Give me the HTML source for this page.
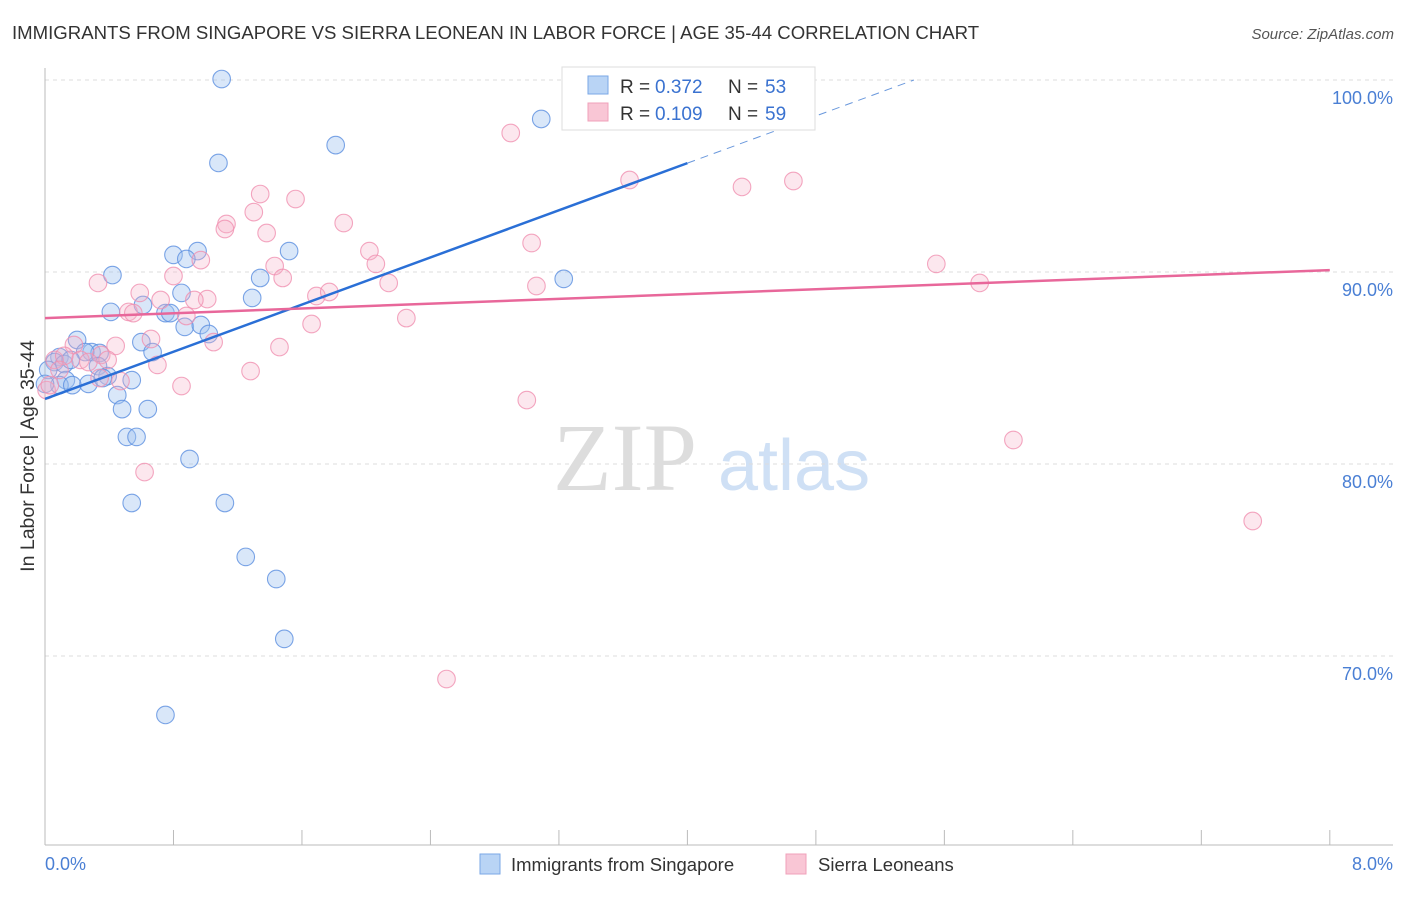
<!DOCTYPE html>
<html><head><meta charset="utf-8"><style>
body{margin:0;background:#fff;font-family:"Liberation Sans",sans-serif}
svg text{font-family:"Liberation Sans",sans-serif}
</style></head><body>
<svg id="chart" width="1406" height="892" xmlns="http://www.w3.org/2000/svg">
<text x="12" y="39" font-size="18.6" fill="#333">IMMIGRANTS FROM SINGAPORE VS SIERRA LEONEAN IN LABOR FORCE | AGE 35-44 CORRELATION CHART</text>
<text x="1394" y="39" font-size="15" fill="#555" text-anchor="end" font-style="italic">Source: ZipAtlas.com</text>
<text x="553" y="490" font-size="96" fill="#ddd" font-family="Liberation Serif" style="font-family:'Liberation Serif',serif">ZIP</text>
<text x="718" y="490" font-size="72" fill="#cfe0f5">atlas</text>
<g id="grid"></g>
<g id="axes"></g>
<g id="pts"></g>
<g id="trends"></g>
<text transform="translate(34,456) rotate(-90)" font-size="19.5" fill="#333" text-anchor="middle">In Labor Force | Age 35-44</text>
<text x="45" y="870" font-size="18" fill="#4a7fd4">0.0%</text>
<text x="1393" y="870" font-size="18" fill="#4a7fd4" text-anchor="end">8.0%</text>
<g>
<rect x="562" y="67" width="253" height="63" fill="#fff" stroke="#ddd"/>
<rect x="588" y="76" width="20" height="18" fill="#b9d4f5" stroke="#7aa7e6"/>
<rect x="588" y="103" width="20" height="18" fill="#f9c6d5" stroke="#f0a0ba"/>
<text x="620" y="93" font-size="19" fill="#333">R =</text>
<text x="655" y="93" font-size="19" fill="#3a72d0">0.372</text>
<text x="728" y="93" font-size="19" fill="#333">N =</text>
<text x="765" y="93" font-size="19" fill="#3a72d0">53</text>
<text x="620" y="120" font-size="19" fill="#333">R =</text>
<text x="655" y="120" font-size="19" fill="#3a72d0">0.109</text>
<text x="728" y="120" font-size="19" fill="#333">N =</text>
<text x="765" y="120" font-size="19" fill="#3a72d0">59</text>
</g>
<g>
<rect x="480" y="854" width="20" height="20" fill="#b9d4f5" stroke="#7aa7e6"/>
<text x="511" y="871" font-size="18.5" fill="#333">Immigrants from Singapore</text>
<rect x="786" y="854" width="20" height="20" fill="#f9c6d5" stroke="#f0a0ba"/>
<text x="818" y="871" font-size="18.5" fill="#333">Sierra Leoneans</text>
</g>
</svg>
<script>
const yTicks=[100,90,80,70];
const yTickLabels=["100.0%","90.0%","80.0%","70.0%"];
const blueX=[1.10,3.09,1.81,1.08,0.80,0.95,0.88,1.52,0.42,1.34,3.23,0.85,1.29,0.61,0.41,0.75,0.78,0.87,0.97,1.02,0.20,0.60,0.67,0.29,0.34,0.09,0.06,0.12,0.33,0.39,0.13,0.27,0.54,0.36,0.45,0.48,0.64,0.51,0.57,0.90,0.54,1.12,1.25,1.44,1.49,0.75,3.64,0.02,0.09,0.17,0.25,0.00,0.16];
const blueY=[100.05,97.97,96.61,95.68,90.89,91.09,90.68,91.09,89.84,89.69,89.64,88.91,88.65,88.28,87.92,87.86,87.86,87.14,87.24,86.77,86.46,86.35,85.83,85.83,85.78,85.57,85.31,85.21,85.10,84.58,84.37,84.17,84.37,84.48,83.59,82.86,82.86,81.41,81.41,80.26,77.97,77.97,75.16,74.01,70.89,66.93,100.05,84.90,84.11,84.11,85.83,84.17,85.42];
const pinkX=[2.90,4.31,3.64,4.34,4.66,1.34,1.56,1.30,1.13,1.12,1.86,1.38,3.03,2.02,2.06,0.97,1.43,0.80,1.48,0.33,2.14,3.06,5.55,5.82,0.59,1.69,1.77,1.01,0.93,0.72,0.52,0.55,0.88,2.25,1.66,0.66,1.05,0.18,0.44,1.46,0.35,0.22,0.39,0.70,1.28,0.47,0.85,0.06,0.01,0.03,3.00,6.03,0.62,7.52,2.50,0.12,0.27,0.34,0.09];
const pinkY=[97.24,100,94.79,94.43,94.74,94.06,93.80,93.12,92.50,92.24,92.55,92.03,91.51,91.09,90.42,90.62,90.31,89.79,89.69,89.43,89.43,89.27,90.42,89.43,88.91,88.75,88.96,88.59,88.54,88.54,87.92,87.86,87.71,87.60,87.29,86.51,86.35,86.20,86.15,86.09,85.68,85.42,85.42,85.16,84.84,84.32,84.06,85.42,83.85,84.11,83.33,81.25,79.58,77.03,68.80,85.63,85.31,84.48,84.90];
const blueTrend=[83.39,3.07];
const pinkTrend=[87.60,0.3125];
const xs=v=>45+v*160.6;
const ys=v=>80+(100-v)*19.2;
const NS="http://www.w3.org/2000/svg";
function mk(p,tag,a){const e=document.createElementNS(NS,tag);for(const k in a)e.setAttribute(k,a[k]);p.appendChild(e);return e;}
const grid=document.getElementById('grid');
yTicks.forEach((t,i)=>{
 const l=mk(grid,'line',{x1:45,x2:1393,y1:ys(t),y2:ys(t),stroke:'#ddd','stroke-dasharray':'4,4'});
 
 
 const tx=mk(grid,'text',{x:1393,y:ys(t)+24,'font-size':18,fill:'#4a7fd4','text-anchor':'end'});
 tx.textContent=yTickLabels[i];
 
 
});
const ax=document.getElementById('axes');
mk(ax,'line',{x1:45,x2:45,y1:68,y2:845,stroke:'#bbb'});
mk(ax,'line',{x1:45,x2:1393,y1:845,y2:845,stroke:'#bbb'});
for(let i=1;i<=10;i++){const t=mk(ax,'line',{x1:xs(i*0.8),x2:xs(i*0.8),y1:830,y2:845,stroke:'#bbb'});}
const pts=document.getElementById('pts');
function plot(X,Y,fill,stroke,name){X.forEach((x,i)=>{const c=mk(pts,'circle',{cx:xs(x),cy:ys(Y[i]),r:8.8,fill:fill,stroke:stroke,'stroke-width':1.1,'stroke-opacity':0.8});
 
 });}
plot(blueX,blueY,'rgba(160,196,240,0.4)','#5b8fe0','singapore-point');
plot(pinkX,pinkY,'rgba(245,175,198,0.3)','#f090b0','sierra-leonean-point');
const tr=document.getElementById('trends');
const bEnd=(100-blueTrend[0])/blueTrend[1];
let l1=mk(tr,'line',{x1:xs(0),y1:ys(blueTrend[0]),x2:xs(4),y2:ys(blueTrend[0]+4*blueTrend[1]),stroke:'#2a6fd6','stroke-width':2.5});


let l2=mk(tr,'line',{x1:xs(4),y1:ys(blueTrend[0]+4*blueTrend[1]),x2:xs(bEnd),y2:ys(100),stroke:'#6a98dc','stroke-width':1,'stroke-dasharray':'8,6'});


let l3=mk(tr,'line',{x1:xs(0),y1:ys(pinkTrend[0]),x2:xs(8),y2:ys(pinkTrend[0]+8*pinkTrend[1]),stroke:'#e8679a','stroke-width':2.5});


</script>
</body></html>
